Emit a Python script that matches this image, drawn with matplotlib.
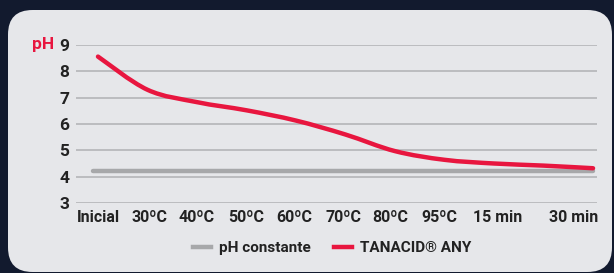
"""
    plot.py

    pH curve of TANACID ANY against a constant pH reference.
"""

import numpy as np
import matplotlib
matplotlib.use('Agg')
from matplotlib import pyplot as plt
from matplotlib.patches import FancyBboxPatch, PathPatch
from matplotlib.path import Path
from matplotlib.lines import Line2D

# data
step = list(range(11))
tanacid_ph = [8.56, 7.3, 6.83, 6.52, 6.13, 5.6, 4.97, 4.64, 4.5, 4.42, 4.32]
const_x = [-0.1, 10]
const_ph = [4.2, 4.2]
tick_labels = ['Inicial', '30ºC', '40ºC', '50ºC', '60ºC', '70ºC', '80ºC',
               '95ºC', '15 min', '30 min']
tick_pos = [0, 1.05, 2.0, 2.99, 3.97, 4.95, 5.9, 6.9, 8.08, 9.6]
y_ticks = [3, 4, 5, 6, 7, 8, 9]

RED = '#e8163f'
GREY = '#a7a8aa'
TXT = '#222222'
FONT = ['Roboto', 'DejaVu Sans']

plt.rcParams['font.family'] = FONT
plt.rcParams['font.weight'] = 'bold'


def smooth_path(xs, ys):
    """Catmull-Rom curve through the points, as cubic bezier segments."""
    P = np.column_stack([xs, ys]).astype(float)
    n = len(P)
    verts = [P[0]]
    codes = [Path.MOVETO]
    for i in range(n - 1):
        p0 = P[max(i - 1, 0)]
        p1 = P[i]
        p2 = P[i + 1]
        p3 = P[min(i + 2, n - 1)]
        verts += [p1 + (p2 - p0) / 6, p2 - (p3 - p1) / 6, p2]
        codes += [Path.CURVE4] * 3
    return Path(verts, codes)


W, H = 614, 273
fig = plt.figure(figsize=(W / 100, H / 100), dpi=100)
fig.patch.set_facecolor('#121a2e')

# light rounded panel
panel = FancyBboxPatch((8 / W, 1 - 272 / H), 604 / W, 262 / H,
                       boxstyle='round,pad=0,rounding_size=0.04',
                       transform=fig.transFigure, facecolor='#e6e7ea',
                       edgecolor='none', zorder=-5, mutation_aspect=W / H)
fig.patches.append(panel)

def px_ax(x0, x1, ytop, ybot):
    return [x0 / W, 1 - ybot / H, (x1 - x0) / W, (ybot - ytop) / H]

ax = fig.add_axes(px_ax(76, 597, 45, 203))
ax.set_zorder(2)
ax.set_facecolor('none')
for s in ax.spines.values():
    s.set_visible(False)

for y in y_ticks:
    ax.axhline(y, color='#b4b5b8', lw=1.2, zorder=1)

ax.plot(const_x, const_ph, color=GREY, lw=3.2, solid_capstyle='round',
        zorder=2, clip_on=False)
curve = PathPatch(smooth_path(step, tanacid_ph), fill=False, edgecolor=RED,
                  lw=3.2, capstyle='round', joinstyle='round', zorder=3,
                  clip_on=False)
ax.add_patch(curve)

ax.set_xlim(-0.444, 10.08)
ax.set_ylim(3, 9)
ax.set_yticks(y_ticks)
ax.set_yticklabels([str(y) for y in y_ticks], fontsize=12.5, color=TXT)
ax.set_xticks(tick_pos)
ax.set_xticklabels(tick_labels, fontsize=11.5, color=TXT)
ax.tick_params(axis='y', length=0, pad=5)
ax.tick_params(axis='x', length=0, pad=5)

fig.text(43 / W, 1 - 45 / H, 'pH', color=RED, fontsize=12.5,
         ha='center', va='center')

handles = [Line2D([], [], color=GREY, lw=3.2),
           Line2D([], [], color=RED, lw=3.2)]
fig.legend(handles, ['pH constante', 'TANACID® ANY'], loc='center',
           bbox_to_anchor=(332 / W, 1 - 248 / H), ncol=2,
           frameon=False, fontsize=11, handlelength=1.2, handletextpad=0.5,
           columnspacing=1.5, labelcolor=TXT)

fig.savefig('out.png', dpi=100, facecolor=fig.get_facecolor())
